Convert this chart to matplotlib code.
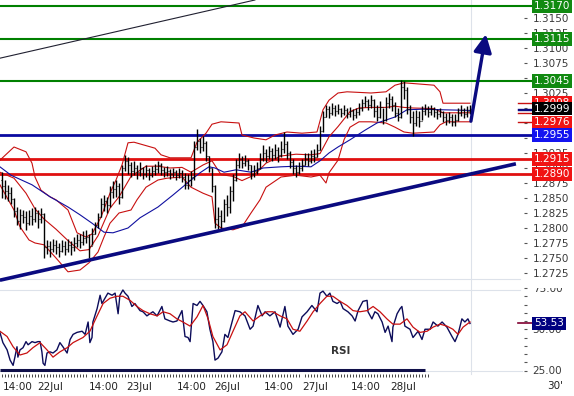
import numpy as np
import matplotlib
matplotlib.use("Agg")
import matplotlib.pyplot as plt
import matplotlib.transforms as mtransforms
from matplotlib.patches import Rectangle
from matplotlib.lines import Line2D

# ---------------- data ----------------
first_open = 1.2880
closes = [
    1.2870, 1.2862, 1.2858, 1.2848, 1.2828, 1.2812, 1.2822, 1.2818, 1.2808, 1.2820,
    1.2815, 1.2825, 1.2815, 1.2823, 1.2768, 1.2770, 1.2765, 1.2772, 1.2768, 1.2762,
    1.2770, 1.2765, 1.2772, 1.2768, 1.2775, 1.2780, 1.2777, 1.2783, 1.2785, 1.2770,
    1.2790, 1.2805, 1.2818, 1.2840, 1.2845, 1.2838, 1.2860, 1.2865, 1.2870, 1.2852,
    1.2900, 1.2912, 1.2905, 1.2895, 1.2900, 1.2893, 1.2900, 1.2890, 1.2897, 1.2888,
    1.2895, 1.2898, 1.2905, 1.2897, 1.2893, 1.2895, 1.2890, 1.2893, 1.2888, 1.2892,
    1.2885, 1.2872, 1.2880, 1.2885, 1.2935, 1.2945, 1.2935, 1.2942, 1.2920, 1.2900,
    1.2870, 1.2815, 1.2820, 1.2812, 1.2840, 1.2835, 1.2862, 1.2880, 1.2905, 1.2915,
    1.2908, 1.2912, 1.2905, 1.2890, 1.2895, 1.2900, 1.2915, 1.2925, 1.2920, 1.2928,
    1.2922, 1.2930, 1.2922, 1.2932, 1.2940, 1.2925, 1.2910, 1.2900, 1.2893, 1.2900,
    1.2905, 1.2915, 1.2912, 1.2920, 1.2918, 1.2930, 1.2962, 1.2985, 1.2998, 1.2992,
    1.3000, 1.2995, 1.2998, 1.2992, 1.2997, 1.2990, 1.2995, 1.2988, 1.2993, 1.3000,
    1.3008, 1.3012, 1.3005, 1.3013, 1.2995, 1.2985, 1.3002, 1.2980, 1.3008, 1.3015,
    1.3005, 1.2992, 1.2985, 1.3035, 1.3030, 1.2998, 1.2985, 1.2975, 1.2985, 1.2978,
    1.2995, 1.2998, 1.2993, 1.2998, 1.2993, 1.2990, 1.2993, 1.2985, 1.2980, 1.2985,
    1.2977, 1.2980, 1.2992, 1.2997, 1.2990, 1.2995, 1.2999]
highs = [
    1.2893, 1.2880, 1.2872, 1.2868, 1.2850, 1.2835, 1.2832, 1.2830, 1.2828, 1.2830,
    1.2833, 1.2835, 1.2830, 1.2833, 1.2825, 1.2780, 1.2778, 1.2782, 1.2780, 1.2775,
    1.2780, 1.2778, 1.2782, 1.2778, 1.2785, 1.2790, 1.2790, 1.2795, 1.2797, 1.2790,
    1.2800, 1.2810, 1.2825, 1.2850, 1.2855, 1.2852, 1.2870, 1.2878, 1.2880, 1.2875,
    1.2905, 1.2922, 1.2918, 1.2910, 1.2912, 1.2905, 1.2910, 1.2902, 1.2905, 1.2900,
    1.2903, 1.2907, 1.2912, 1.2908, 1.2902, 1.2903, 1.2898, 1.2900, 1.2897, 1.2900,
    1.2897, 1.2892, 1.2890, 1.2895, 1.2945, 1.2965, 1.2950, 1.2953, 1.2945, 1.2920,
    1.2900, 1.2872, 1.2835, 1.2830, 1.2848, 1.2855, 1.2870, 1.2890, 1.2915, 1.2925,
    1.2920, 1.2922, 1.2915, 1.2905, 1.2905, 1.2910, 1.2925, 1.2938, 1.2932, 1.2937,
    1.2933, 1.2940, 1.2935, 1.2945, 1.2960, 1.2945, 1.2928, 1.2915, 1.2905, 1.2910,
    1.2915, 1.2925, 1.2925, 1.2930, 1.2932, 1.2940, 1.2970, 1.2995, 1.3005, 1.3003,
    1.3008, 1.3005, 1.3007, 1.3000, 1.3005, 1.3000, 1.3002, 1.2998, 1.3000, 1.3008,
    1.3015, 1.3020, 1.3015, 1.3022, 1.3015, 1.3005, 1.3012, 1.3000, 1.3018, 1.3025,
    1.3020, 1.3010, 1.3000, 1.3047, 1.3045, 1.3035, 1.3005, 1.2995, 1.2997, 1.2995,
    1.3003, 1.3007, 1.3003, 1.3005, 1.3002, 1.2998, 1.3000, 1.2995, 1.2992, 1.2993,
    1.2990, 1.2990, 1.3000, 1.3005, 1.3000, 1.3003, 1.3005]
lows = [
    1.2850, 1.2848, 1.2845, 1.2840, 1.2818, 1.2805, 1.2798, 1.2808, 1.2797, 1.2805,
    1.2805, 1.2810, 1.2800, 1.2808, 1.2750, 1.2757, 1.2752, 1.2760, 1.2757, 1.2752,
    1.2760, 1.2755, 1.2760, 1.2755, 1.2762, 1.2768, 1.2767, 1.2772, 1.2775, 1.2750,
    1.2772, 1.2790, 1.2800, 1.2818, 1.2828, 1.2825, 1.2835, 1.2850, 1.2852, 1.2840,
    1.2850, 1.2895, 1.2890, 1.2885, 1.2888, 1.2882, 1.2887, 1.2882, 1.2885, 1.2880,
    1.2885, 1.2888, 1.2892, 1.2888, 1.2885, 1.2887, 1.2882, 1.2885, 1.2880, 1.2883,
    1.2877, 1.2865, 1.2865, 1.2870, 1.2880, 1.2930, 1.2925, 1.2928, 1.2912, 1.2893,
    1.2860, 1.2800, 1.2798, 1.2798, 1.2810, 1.2820, 1.2825, 1.2845, 1.2878, 1.2900,
    1.2900, 1.2903, 1.2897, 1.2882, 1.2885, 1.2890, 1.2898, 1.2912, 1.2910, 1.2915,
    1.2912, 1.2915, 1.2910, 1.2918, 1.2925, 1.2915, 1.2900, 1.2890, 1.2885, 1.2890,
    1.2895, 1.2905, 1.2903, 1.2908, 1.2910, 1.2918, 1.2930, 1.2960, 1.2985, 1.2983,
    1.2988, 1.2987, 1.2990, 1.2985, 1.2988, 1.2983, 1.2985, 1.2980, 1.2983, 1.2988,
    1.2995, 1.3002, 1.2997, 1.3000, 1.2985, 1.2978, 1.2983, 1.2973, 1.2978, 1.3000,
    1.2995, 1.2985, 1.2978, 1.2983, 1.3015, 1.2990, 1.2975, 1.2953, 1.2970, 1.2968,
    1.2980, 1.2988, 1.2985, 1.2988, 1.2985, 1.2982, 1.2985, 1.2977, 1.2972, 1.2975,
    1.2970, 1.2970, 1.2978, 1.2987, 1.2983, 1.2985, 1.2990]

upper_t = [-0.7, 4, 8, 10, 11, 13, 16, 18, 22, 25, 28, 30, 33, 36, 38, 40, 42, 44, 51, 53,
           56, 63, 65, 68, 70, 73, 79, 80, 84, 88, 91, 95, 100, 105, 107, 109, 112, 115, 123, 128,
           131, 134, 144, 146, 147, 150, 156]
upper_v = [1.2913, 1.2935, 1.2927, 1.2908, 1.2885, 1.2863, 1.2852, 1.2847, 1.2830, 1.2792,
           1.2785, 1.2790, 1.2818, 1.2858, 1.2880, 1.2905, 1.2942, 1.2943, 1.2933, 1.2922,
           1.2917, 1.2917, 1.2943, 1.2958, 1.2973, 1.2977, 1.2975, 1.2955, 1.2950, 1.2947,
           1.2955, 1.2960, 1.2958, 1.2960, 1.2997, 1.3013, 1.3025, 1.3027, 1.3025, 1.3027,
           1.3038, 1.3042, 1.3038, 1.3027, 1.3008, 1.3008, 1.3008]
lower_t = [-0.7, 4, 6, 9, 11, 14, 18, 22, 26, 29, 32, 34, 36, 39, 43, 45, 48, 52, 55, 60,
           63, 67, 70, 71, 73, 77, 80, 83, 86, 88, 93, 98, 103, 106, 108, 109, 112, 114, 116, 119,
           123, 128, 131, 134, 137, 144, 146, 148, 156]
lower_v = [1.2872, 1.2830, 1.2802, 1.2780, 1.2775, 1.2772, 1.2750, 1.2727, 1.2730, 1.2742,
           1.2760, 1.2785, 1.2808, 1.2825, 1.2830, 1.2847, 1.2868, 1.2880, 1.2883, 1.2885,
           1.2868, 1.2858, 1.2852, 1.2808, 1.2800, 1.2797, 1.2802, 1.2825, 1.2847, 1.2868,
           1.2885, 1.2888, 1.2885, 1.2888, 1.2875, 1.2892, 1.2913, 1.2947, 1.2968, 1.2977,
           1.2977, 1.2975, 1.2968, 1.2960, 1.2958, 1.2960, 1.2972, 1.2977, 1.2977]
mid_t = [-0.7, 4, 8, 11, 14, 18, 22, 26, 29, 32, 36, 39, 43, 48, 52, 56, 60, 63, 67, 70,
         73, 77, 80, 84, 88, 93, 98, 103, 106, 109, 112, 116, 119, 123, 128, 131, 134, 137, 144, 147,
         150, 156]
mid_v = [1.2893, 1.2883, 1.2858, 1.2832, 1.2815, 1.2798, 1.2779, 1.2762, 1.2764, 1.2787,
         1.2833, 1.2852, 1.2886, 1.2903, 1.2903, 1.2900, 1.2901, 1.2893, 1.2905, 1.2912,
         1.2889, 1.2886, 1.2879, 1.2888, 1.2908, 1.2920, 1.2923, 1.2922, 1.2924, 1.2952,
         1.2969, 1.2994, 1.3000, 1.3001, 1.3001, 1.3003, 1.3001, 1.3000, 1.2999, 1.2992,
         1.2992, 1.2992]
ma_t = [-0.7, 3, 10, 16, 22, 26, 30, 34, 37, 42, 46, 52, 57, 63, 66, 69, 71, 74, 78, 83,
        87, 93, 98, 103, 106, 109, 112, 116, 121, 125, 131, 135, 140, 147, 156]
ma_v = [1.2902, 1.2888, 1.2872, 1.2852, 1.2835, 1.2822, 1.2808, 1.2793, 1.2792, 1.2800,
        1.2817, 1.2835, 1.2855, 1.2880, 1.2892, 1.2902, 1.2900, 1.2893, 1.2897, 1.2893,
        1.2900, 1.2902, 1.2903, 1.2902, 1.2912, 1.2925, 1.2935, 1.2947, 1.2963, 1.2975,
        1.2985, 1.2997, 1.2998, 1.2997, 1.2996]

rsi_t = [-0.7, 0.3, 1.7, 2.7, 3.7, 4.3, 5, 5.3, 6, 7,
         8, 8.7, 10, 11, 12, 12.7, 13.3, 13.7, 14.3, 15,
         16, 17, 18.3, 19.3, 20.3, 21.7, 22.7, 23.7, 25, 26.7,
         27.7, 28.7, 29.3, 30, 30.3, 31.7, 32.7, 33.3, 34.3, 35.3,
         36.7, 37.7, 38.7, 39.3, 40.3, 41, 42, 43.3, 44.3, 46,
         47, 48.3, 49.3, 50.3, 51.7, 53.3, 54.3, 56, 57, 58.3,
         60, 61, 62, 62.7, 63.7, 65, 66, 67, 68.3, 69.3,
         70.3, 71, 72, 73.3, 74.3, 75.3, 76.7, 77.7, 79.3, 81,
         82.7, 83.7, 85.3, 86.7, 87.7, 89.3, 91, 92.7, 94.3, 95.3,
         97, 98.7, 100, 101.7, 103.3, 105, 106, 107, 108.3, 109.3,
         110.3, 111.7, 112.7, 113.7, 115.3, 116.7, 117.7, 118.7, 120.3, 121.7,
         122, 123.3, 124.3, 125.3, 126.7, 127.7, 128.7, 130, 130.3, 131.7,
         132.7, 133.3, 134.3, 136, 137, 138.7, 140, 141, 142.7, 143.7,
         145.3, 146.7, 148.3, 150, 151, 152, 153.3, 154.3, 155.3, 156]
rsi_v = [48.1, 41.9, 37.5, 31.3, 28.1, 33.1, 39.4, 33.1, 37.5, 38.8,
         42.5, 40.6, 42.5, 41.9, 42.5, 42.5, 36.3, 29.4, 28.1, 35.6,
         36.3, 35.6, 37.5, 41.9, 39.4, 35.6, 43.8, 46.9, 48.1, 48.8,
         46.9, 54.4, 41.9, 45.0, 54.4, 62.5, 70.6, 65.6, 68.8, 71.9,
         70.6, 71.9, 59.4, 70.6, 73.8, 71.9, 70.0, 63.8, 65.6, 61.3,
         60.6, 58.1, 59.4, 60.6, 58.1, 63.8, 56.3, 55.0, 54.4, 55.0,
         61.3, 45.6, 45.0, 42.5, 65.6, 64.4, 66.9, 64.4, 60.6, 50.0,
         42.5, 31.3, 32.5, 36.3, 46.9, 45.0, 54.4, 61.3, 60.6, 58.1,
         50.0, 51.9, 64.4, 58.1, 60.6, 58.1, 60.6, 51.3, 63.8, 51.9,
         46.9, 50.0, 57.5, 60.6, 64.4, 60.6, 71.9, 73.1, 70.0, 71.9,
         66.9, 65.6, 66.9, 62.5, 60.6, 58.1, 55.0, 61.3, 66.9, 67.5,
         60.6, 56.3, 60.6, 59.4, 54.4, 48.1, 51.9, 42.5, 51.3, 59.4,
         62.5, 63.8, 51.9, 50.0, 45.0, 48.8, 43.8, 50.0, 50.0, 54.4,
         51.9, 54.4, 51.3, 45.6, 42.5, 46.9, 56.3, 54.4, 56.3, 53.5]
sig_t = [-0.7, 1.7, 3.7, 6, 8.3, 10.3, 12.7, 15, 17, 19.3,
         21.7, 23.7, 27, 29.3, 31.7, 33.7, 36, 38.3, 40.3, 42.7,
         45, 47, 49.3, 51.7, 53.7, 56, 58.3, 60.3, 62.7, 65,
         67, 68.7, 70.3, 72.7, 75, 77, 79.3, 81, 83.7, 86,
         88.3, 90.3, 92.7, 95, 97, 99.3, 101.7, 103.7, 106, 108.3,
         110.3, 112.7, 115, 117, 119.3, 121.7, 123.7, 126, 128.3, 130.3,
         132.7, 135, 137, 139.3, 141.7, 143.7, 146, 148.3, 150.3, 152,
         153.7, 156]
sig_v = [48.8, 45.6, 39.4, 34.4, 35.6, 38.8, 41.9, 37.5, 33.1, 36.3,
         38.8, 41.9, 45.0, 48.8, 58.1, 65.6, 68.8, 70.0, 70.0, 67.5,
         63.8, 61.3, 59.4, 58.1, 60.6, 59.4, 56.3, 54.4, 51.9, 57.5,
         64.4, 56.3, 45.6, 37.5, 40.6, 48.8, 58.1, 60.6, 55.0, 58.1,
         60.6, 60.6, 58.1, 56.3, 50.0, 48.8, 55.0, 60.6, 65.6, 70.0,
         70.0, 66.9, 64.4, 61.3, 60.6, 61.3, 63.8, 60.6, 56.3, 53.1,
         53.1, 56.3, 51.3, 48.1, 48.8, 51.3, 53.1, 51.9, 50.0, 46.9,
         51.3, 54.4]

resist_levels = [1.3170, 1.3115, 1.3045]
pivot_levels = [1.2955]
support_levels = [1.2915, 1.2890]
upper_last = 1.3008
last_price = 1.2999
lower_last = 1.2976
rsi_last = 53.53
rsi_floor = 25.6

trend_up_t = [-0.7, 171.3]
trend_up_v = [1.2713, 1.2907]
trend_top_t = [-0.7, 84.3]
trend_top_v = [1.3083, 1.3180]
arrow_from = (156.3, 1.2978)
arrow_to = (161.3, 1.3123)

xtick_pos = [0.3, 11.7, 29, 41.3, 58.3, 70.7, 87.3, 100, 116.3, 129.3]
xtick_labels = ["14:00", "22Jul", "14:00", "23Jul", "14:00", "26Jul",
                "14:00", "27Jul", "14:00", "28Jul"]
price_ticks = [1.2725, 1.2750, 1.2775, 1.2800, 1.2825, 1.2850, 1.2875, 1.2900,
               1.2925, 1.2950, 1.2975, 1.3000, 1.3025, 1.3050, 1.3075, 1.3100,
               1.3125, 1.3150]
rsi_ticks = [25, 50, 75]
rsi_minor = [30, 35, 40, 45, 55, 60, 65, 70]

# ---------------- layout ----------------
FW, FH = 574, 396
fig = plt.figure(figsize=(FW / 100, FH / 100), dpi=100)
fig.patch.set_facecolor("white")


def fx(px):
    return px / FW


def fy(py):
    return 1 - py / FH


PLOT_R = 524
ax = fig.add_axes([0, fy(284), fx(PLOT_R), 284 / FH])
ax2 = fig.add_axes([0, fy(374), fx(PLOT_R), 90 / FH])
for a in (ax, ax2):
    a.set_facecolor("none")
    for s in a.spines.values():
        s.set_visible(False)

tm = mtransforms.blended_transform_factory(fig.transFigure, ax.transData)
tr = mtransforms.blended_transform_factory(fig.transFigure, ax2.transData)

LIGHT = "#dde2ea"
for py in (279, 290):
    fig.add_artist(Line2D([0, fx(520)], [fy(py), fy(py)], transform=fig.transFigure,
                          color=LIGHT, lw=0.8, zorder=-1))
fig.add_artist(Line2D([fx(471), fx(471)], [fy(0), fy(374)], transform=fig.transFigure,
                      color=LIGHT, lw=0.8, zorder=-1))

# ---------------- main price panel ----------------
t = np.arange(len(closes))
opens = [first_open] + closes[:-1]
ax.vlines(t, lows, highs, color="black", lw=1.0, zorder=4)
ax.hlines(opens, t - 0.4, t, color="black", lw=0.8, zorder=4)
ax.hlines(closes, t, t + 0.4, color="black", lw=0.8, zorder=4)

BAND = "#c81010"
ax.plot(upper_t, upper_v, color=BAND, lw=0.8, zorder=3)
ax.plot(lower_t, lower_v, color=BAND, lw=0.8, zorder=3)
ax.plot(mid_t, mid_v, color=BAND, lw=0.8, zorder=3)
ax.plot(ma_t, ma_v, color="#1010a0", lw=0.8, zorder=3)

for lvl in resist_levels:
    ax.plot([0, fx(532)], [lvl, lvl], transform=tm, color="#008000", lw=1.5,
            clip_on=False, zorder=2)
for lvl in pivot_levels:
    ax.plot([0, fx(532)], [lvl, lvl], transform=tm, color="#0a0aa0", lw=2.0,
            clip_on=False, zorder=2)
for lvl in support_levels:
    ax.plot([0, fx(532)], [lvl, lvl], transform=tm, color="#e01010", lw=2.0,
            clip_on=False, zorder=2)

NAVY = "#0a0a80"
ax.plot(trend_up_t, trend_up_v, color=NAVY, lw=2.6, solid_capstyle="butt", zorder=5)
ax.plot(trend_top_t, trend_top_v, color="#202030", lw=0.8, zorder=5)
ax.annotate("", xy=arrow_to, xytext=arrow_from,
            arrowprops=dict(arrowstyle="-|>,head_length=0.9,head_width=0.45",
                            color=NAVY, lw=2.4, mutation_scale=12,
                            shrinkA=0, shrinkB=0), zorder=6)

# short markers next to the price scale
for val, col in [(upper_last, BAND), (last_price, "#0a0a80"), (ma_v[-1], "#0a0a80"),
                 (mid_v[-1], BAND), (lower_last, BAND)]:
    ax.plot([fx(518), fx(532)], [val, val], transform=tm, color=col, lw=1.0,
            clip_on=False, zorder=3)

ax.set_xlim(-0.667, 174.0)
ax.set_ylim(1.3180 - 284 / 6000, 1.3180)
ax.set_xticks([])
ax.yaxis.tick_right()
ax.set_yticks(price_ticks)
ax.set_yticklabels([f"{v:.4f}" for v in price_ticks])
ax.tick_params(axis="y", direction="out", length=2.2, width=0.8, color="#555555",
               pad=4.0, labelsize=7.5, labelcolor="#3a3a3a")


def box(a, trans, y, txt, fc):
    a.text(fx(534), y, txt, transform=trans, ha="left", va="center", color="white",
           fontsize=7.5, clip_on=False, zorder=10,
           bbox=dict(boxstyle="square,pad=0.18", fc=fc, ec="none"))


GREEN, RED, BLUE = "#118a11", "#f01414", "#1414f0"
for lvl in resist_levels:
    box(ax, tm, lvl, f"{lvl:.4f}", GREEN)
box(ax, tm, upper_last, f"{upper_last:.4f}", RED)
box(ax, tm, last_price, f"{last_price:.4f}", "black")
box(ax, tm, lower_last, f"{lower_last:.4f}", RED)
for lvl in pivot_levels:
    box(ax, tm, lvl, f"{lvl:.4f}", BLUE)
for lvl in support_levels:
    box(ax, tm, lvl, f"{lvl:.4f}", RED)

# ---------------- RSI panel ----------------
ax2.plot([-0.7, 520 / 3], [25, 25], color=LIGHT, lw=0.8, zorder=1)
ax2.plot(rsi_t, rsi_v, color="#0c0c5a", lw=1.0, zorder=3)
ax2.plot(sig_t, sig_v, color=BAND, lw=0.9, zorder=3)
ax2.plot([-0.7, 141], [rsi_floor, rsi_floor], color="#10104a", lw=2.2,
         solid_capstyle="butt", zorder=4)
ax2.plot([fx(518), fx(532)], [rsi_last, rsi_last], transform=tr, color="#800030",
         lw=1.2, clip_on=False, zorder=3)
ax2.text(113, 36.8, "RSI", ha="center", va="center", fontsize=7.5,
         fontweight="bold", color="#333333")

ax2.set_xlim(-0.667, 174.0)
ax2.set_ylim(75 - 86 / 1.65, 75 + 4 / 1.65)
ax2.yaxis.tick_right()
ax2.set_yticks(rsi_ticks)
ax2.set_yticklabels([f"{v:.2f}" for v in rsi_ticks])
ax2.set_yticks(rsi_minor, minor=True)
ax2.tick_params(axis="y", which="both", direction="out", length=2.2, width=0.8,
                color="#555555", pad=4.0, labelsize=7.5, labelcolor="#3a3a3a")
box(ax2, tr, rsi_last, f"{rsi_last:.2f}", "#000080")

ax2.set_xticks(xtick_pos)
ax2.set_xticklabels(xtick_labels, ha="left")
ax2.set_xticks(np.arange(0, 143), minor=True)
ax2.tick_params(axis="x", which="major", length=0, pad=6.0, labelsize=7.5,
                labelcolor="#222222")
ax2.tick_params(axis="x", which="minor", length=2.2, width=0.7, color="#444444",
                direction="out")

fig.text(fx(547), fy(386), "30'", ha="left", va="center", fontsize=7.5, color="#222222")

# hide top half of the 75.00 label like the original
fig.add_artist(Rectangle((fx(528), fy(288)), fx(46), 8 / FH, transform=fig.transFigure,
                         fc="white", ec="none", zorder=5))

fig.savefig("out.png", dpi=100, facecolor="white")
